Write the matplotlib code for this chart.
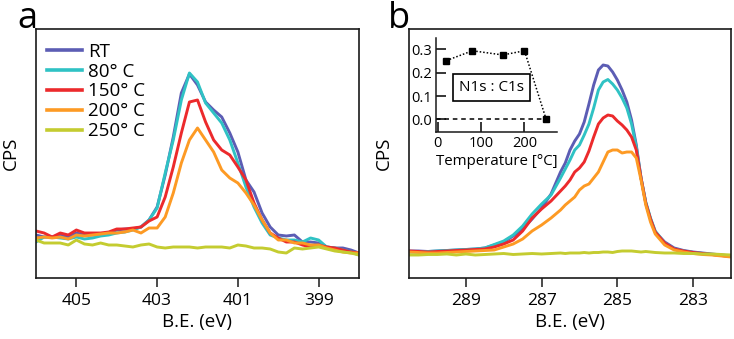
import matplotlib
matplotlib.use("Agg")
import matplotlib.pyplot as plt

plt.rcParams['font.family'] = ['Open Sans', 'DejaVu Sans']

# ---------------- data ----------------
labels = ["RT", "80° C", "150° C", "200° C", "250° C"]
colors = ["#5c5db4", "#2fc2c4", "#ec2a2c", "#fd9a24", "#c4cc30"]

# N1s region (panel a)
be_n1s = [406.0, 405.8, 405.6, 405.4, 405.2, 405.0, 404.8, 404.6, 404.4, 404.2,
          404.0, 403.8, 403.6, 403.4, 403.2, 403.0, 402.8, 402.6, 402.4, 402.2,
          402.0, 401.8, 401.6, 401.4, 401.2, 401.0, 400.8, 400.6, 400.4, 400.2,
          400.0, 399.8, 399.6, 399.4, 399.2, 399.0, 398.8, 398.6, 398.4, 398.2, 398.0]
n1s_rt = [43, 41, 41, 43, 41, 45, 43, 43, 43, 45, 48, 49, 49, 51, 58, 71, 103, 141, 185, 204,
          193, 176, 168, 161, 145, 126, 98, 86, 65, 51, 43, 42, 43, 36, 36, 35, 31, 30, 30, 28, 25]
n1s_80 = [36, 41, 41, 40, 39, 41, 39, 40, 42, 43, 45, 46, 48, 51, 58, 70, 105, 138, 178, 205,
          196, 175, 165, 155, 138, 115, 91, 71, 55, 43, 40, 38, 38, 36, 40, 38, 31, 30, 28, 26, 23]
n1s_150 = [47, 45, 41, 45, 43, 48, 45, 45, 45, 46, 49, 49, 50, 51, 57, 61, 81, 111, 145, 176,
           178, 156, 138, 128, 123, 111, 98, 75, 58, 45, 40, 36, 36, 33, 31, 33, 31, 30, 28, 26, 25]
n1s_200 = [40, 41, 40, 41, 39, 43, 42, 43, 44, 45, 45, 46, 48, 45, 50, 50, 61, 85, 115, 138,
           150, 138, 126, 108, 100, 95, 85, 73, 58, 45, 38, 38, 35, 35, 33, 33, 30, 28, 26, 25, 25]
n1s_250 = [38, 35, 35, 35, 33, 38, 34, 33, 35, 33, 33, 32, 31, 33, 34, 31, 30, 31, 31, 31,
           30, 31, 31, 31, 30, 33, 32, 30, 30, 29, 26, 25, 30, 29, 30, 31, 29, 27, 26, 25, 23]

# C1s region (panel b)
be_c1s = [290.5, 290.25, 290.0, 289.75, 289.5, 289.25, 289.0, 288.75, 288.5, 288.25,
          288.0, 287.75, 287.5, 287.25, 287.0, 286.75, 286.5, 286.375, 286.25, 286.125,
          286.0, 285.875, 285.75, 285.625, 285.5, 285.375, 285.25, 285.125, 285.0, 284.875,
          284.75, 284.625, 284.5, 284.375, 284.25, 284.125, 284.0, 283.75, 283.5, 283.25,
          283.0, 282.75, 282.5, 282.25, 282.0]
c1s_rt = [27, 27, 26.5, 27, 27.5, 28, 28.5, 29, 30, 33, 36, 42, 49, 59, 70, 84, 106,
          115, 128, 137, 144, 156, 174, 193, 208, 213, 212, 206, 198, 188, 176, 158, 133, 100, 75, 59, 46,
          36, 30, 27.5, 26, 25, 24, 23, 22]
c1s_80 = [26, 26, 26.5, 27, 27.5, 28, 28.5, 29, 30, 33.5, 37, 43, 52, 64, 74, 83, 100,
          109, 118, 128, 133, 143, 154, 170, 188, 196, 198.5, 194, 188, 180, 170, 154, 131, 100, 76, 60, 47,
          35, 29, 27, 25.5, 24.5, 23.5, 22.5, 21.5]
c1s_150 = [27, 26.5, 26, 26.5, 27, 27.5, 28, 28.5, 29, 31, 34, 38, 47, 60, 69, 77, 87,
           92, 98, 106, 110, 116, 127, 141, 154, 160, 163, 162, 157, 153, 148, 141, 128, 100, 75, 59, 46,
           35, 29, 27, 25.5, 24.5, 23.5, 22.5, 21.5]
c1s_200 = [26, 25.5, 25, 25, 25.5, 26, 26.5, 27, 27.5, 28, 31, 34, 39, 47, 53, 60, 68,
           73, 77, 81, 88, 92, 94, 100, 106, 116, 126, 128, 128, 125, 126, 126, 120, 98, 73, 56, 44,
           33, 28, 26, 24.5, 23.5, 23, 22, 21]
c1s_250 = [23, 23, 23.5, 23.5, 24, 23, 24, 23, 23.5, 24, 24.5, 23.5, 24, 24.5, 24, 24.5, 25,
           24.5, 25, 25, 25, 25.5, 25, 25.5, 25.5, 26, 26, 25.5, 26.5, 27, 27, 27, 26.5, 26, 26.5, 26, 25.5,
           25, 25, 24.5, 24.5, 24, 24, 23.5, 23]

# Inset: N1s:C1s ratio vs temperature
temps = [20, 80, 150, 200, 250]
ratio = [0.252, 0.294, 0.276, 0.294, 0.0]

n1s_series = [n1s_rt, n1s_80, n1s_150, n1s_200, n1s_250]
c1s_series = [c1s_rt, c1s_80, c1s_150, c1s_200, c1s_250]

# ---------------- figure ----------------
W, H = 734, 339
fig = plt.figure(figsize=(W / 100, H / 100), dpi=100)

def fx(px):
    return px / W

def fy(py):
    return 1 - py / H

axa = fig.add_axes([fx(36), fy(278), fx(359) - fx(36), fy(29) - fy(278)])
axb = fig.add_axes([fx(409), fy(278), fx(731) - fx(409), fy(29) - fy(278)])

lw = 2.1
for s, c, lab in zip(n1s_series, colors, labels):
    axa.plot(be_n1s, s, color=c, lw=lw, label=lab, solid_joinstyle='round')
for s, c in zip(c1s_series, colors):
    axb.plot(be_c1s, s, color=c, lw=lw, solid_joinstyle='round')

axa.set_xlim(406.0, 398.0)
axb.set_xlim(290.5, 282.0)
for ax in (axa, axb):
    ax.set_ylim(0, 249)
    ax.set_yticks([])
    for sp in ax.spines.values():
        sp.set_linewidth(1.2)
        sp.set_color('#1a1a1a')
    ax.tick_params(axis='x', direction='out', length=6.5, width=1.1, color='#1a1a1a',
                   labelsize=12.5, pad=4)
    ax.set_xlabel("B.E. (eV)", fontsize=13.5, labelpad=3.5)

axa.set_xticks([405, 403, 401, 399])
axb.set_xticks([289, 287, 285, 283])

for x in (11, 384):
    fig.text(fx(x), fy(153), "CPS", rotation=90, ha='center', va='center', fontsize=13.5)

fig.text(fx(27), fy(28), "a", ha='center', va='baseline', fontsize=26)
fig.text(fx(399), fy(28), "b", ha='center', va='baseline', fontsize=26)

leg = axa.legend(loc='upper left', bbox_to_anchor=(0.034, 0.945), frameon=False,
                 fontsize=13.5, handlelength=1.85, handletextpad=0.35,
                 labelspacing=0.1, borderpad=0, borderaxespad=0)
for l in leg.get_lines():
    l.set_linewidth(2.6)

# inset
axi = fig.add_axes([fx(436), fy(131.7), fx(557) - fx(436), fy(37.7) - fy(131.7)])
axi.set_xlim(-4, 275)
axi.set_ylim(-0.053, 0.35)
axi.plot([-4, 250], [0, 0], color='black', lw=1.1, ls=(0, (3, 2.5)))
axi.plot(temps, ratio, color='black', lw=1.1, ls=(0, (1, 1.3)), marker='s', ms=5,
         markerfacecolor='black', markeredgecolor='black')
axi.spines['top'].set_visible(False)
axi.spines['right'].set_visible(False)
for sp in ('left', 'bottom'):
    axi.spines[sp].set_linewidth(1.1)
    axi.spines[sp].set_color('#1a1a1a')
axi.set_xticks([0, 100, 200])
axi.set_yticks([0.0, 0.1, 0.2, 0.3])
axi.set_yticklabels(["0.0", "0.1", "0.2", "0.3"])
axi.tick_params(direction='in', length=7, width=1.1, labelsize=10.5, pad=3)
axi.patch.set_alpha(0)
axi.set_xlabel("Temperature [°C]", fontsize=10.8, labelpad=2)
axi.text(0.459, 0.47, "N1s : C1s", transform=axi.transAxes, ha='center', va='center',
         fontsize=11, bbox=dict(boxstyle='square,pad=0.4', fc='white', ec='black', lw=1.2))

fig.savefig("out.png", dpi=100)
